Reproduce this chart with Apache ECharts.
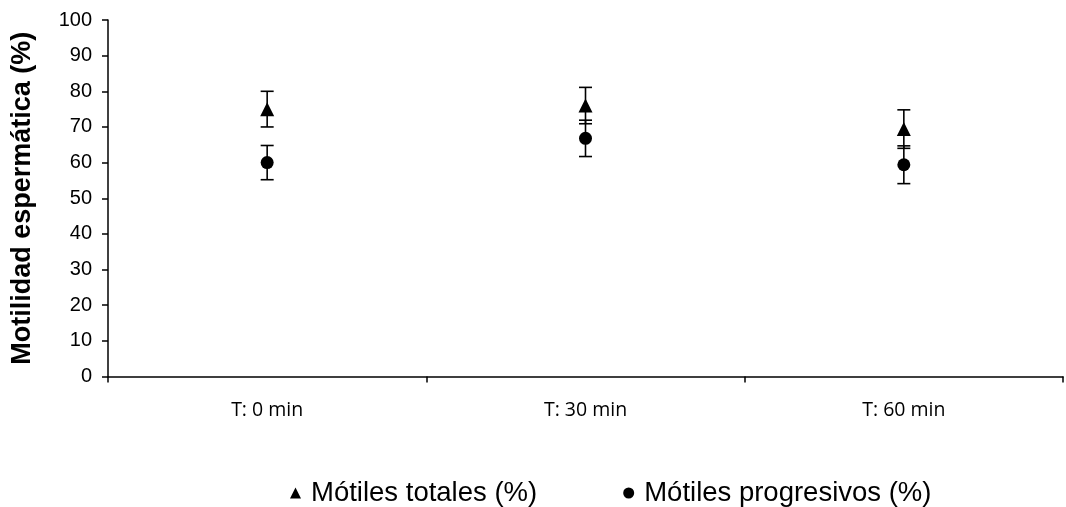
<!DOCTYPE html>
<html>
<head>
<meta charset="utf-8">
<script src="https://cdn.jsdelivr.net/npm/echarts@6/dist/echarts.min.js"></script>
<style>html,body{margin:0;padding:0;background:#fff;}#c{width:1066px;height:507px;}</style>
</head>
<body>
<div id="c"></div>
<script>
var categories = ['T: 0 min', 'T: 30 min', 'T: 60 min'];
var totales = [75, 76, 69.4];
var totalesErr = [5, 5.1, 5.4];
var progresivos = [60, 66.8, 59.4];
var progresivosErr = [4.8, 5.1, 5.3];
var yTicks = [0, 10, 20, 30, 40, 50, 60, 70, 80, 90, 100];

function errData(vals, errs) {
  return vals.map(function (v, i) { return [i, v - errs[i], v + errs[i]]; });
}
function errRender(params, api) {
  var x = api.value(0);
  var lo = api.coord([x, api.value(1)]);
  var hi = api.coord([x, api.value(2)]);
  var hw = 6.5;
  var st = { stroke: '#000', lineWidth: 1.6 };
  return {
    type: 'group',
    children: [
      { type: 'line', shape: { x1: lo[0], y1: lo[1], x2: hi[0], y2: hi[1] }, style: st },
      { type: 'line', shape: { x1: lo[0] - hw, y1: lo[1], x2: lo[0] + hw, y2: lo[1] }, style: st },
      { type: 'line', shape: { x1: hi[0] - hw, y1: hi[1], x2: hi[0] + hw, y2: hi[1] }, style: st }
    ]
  };
}

var chart = echarts.init(document.getElementById('c'));
chart.setOption({
  animation: false,
  backgroundColor: '#fff',
  color: ['#000', '#000', '#000', '#000'],
  grid: { left: 108, right: 3, top: 20, bottom: 130.5, containLabel: false },
  legend: {
    top: 474,
    left: 285,
    itemGap: 86,
    itemWidth: 11,
    itemHeight: 11,
    textStyle: { fontFamily: 'Liberation Sans, Arial, sans-serif', fontSize: 27.5, color: '#000', padding: [0, 0, 0, 5] },
    data: [
      { name: 'Mótiles totales (%)', icon: 'triangle', itemStyle: { color: '#000', opacity: 1 } },
      { name: 'Mótiles progresivos (%)', icon: 'circle', itemStyle: { color: '#000', opacity: 1 } }
    ]
  },
  xAxis: {
    type: 'category',
    data: categories,
    boundaryGap: true,
    axisLine: { lineStyle: { color: '#000', width: 1.5 } },
    axisTick: { show: true, length: 6, lineStyle: { color: '#000', width: 1.5 } },
    axisLabel: { color: '#000', fontFamily: 'Open Sans, sans-serif', fontSize: 19.5, margin: 24 },
    splitLine: { show: false }
  },
  yAxis: {
    type: 'value',
    min: yTicks[0],
    max: yTicks[yTicks.length - 1],
    interval: 10,
    name: 'Motilidad espermática (%)',
    nameLocation: 'middle',
    nameGap: 72,
    nameTextStyle: { fontFamily: 'Liberation Sans, Arial, sans-serif', fontWeight: 'bold', fontSize: 27, color: '#000' },
    axisLine: { show: true, lineStyle: { color: '#000', width: 1.5 } },
    axisTick: { show: true, length: 6, lineStyle: { color: '#000', width: 1.5 } },
    axisLabel: { color: '#000', fontFamily: 'Liberation Sans, Arial, sans-serif', fontSize: 20, margin: 16 },
    splitLine: { show: false }
  },
  series: [
    {
      name: 'Mótiles totales (%)',
      type: 'custom',
      renderItem: errRender,
      itemStyle: { color: '#000' },
      data: errData(totales, totalesErr),
      encode: { x: 0, y: [1, 2] },
      z: 1,
      silent: true
    },
    {
      name: 'Mótiles progresivos (%)',
      type: 'custom',
      renderItem: errRender,
      itemStyle: { color: '#000' },
      data: errData(progresivos, progresivosErr),
      encode: { x: 0, y: [1, 2] },
      z: 1,
      silent: true
    },
    {
      name: 'Mótiles totales (%)',
      type: 'scatter',
      symbol: 'triangle',
      symbolSize: 14,
      itemStyle: { color: '#000', opacity: 1 },
      data: totales,
      z: 3
    },
    {
      name: 'Mótiles progresivos (%)',
      type: 'scatter',
      symbol: 'circle',
      symbolSize: 13,
      itemStyle: { color: '#000', opacity: 1 },
      data: progresivos,
      z: 3
    }
  ]
});
</script>
</body>
</html>
